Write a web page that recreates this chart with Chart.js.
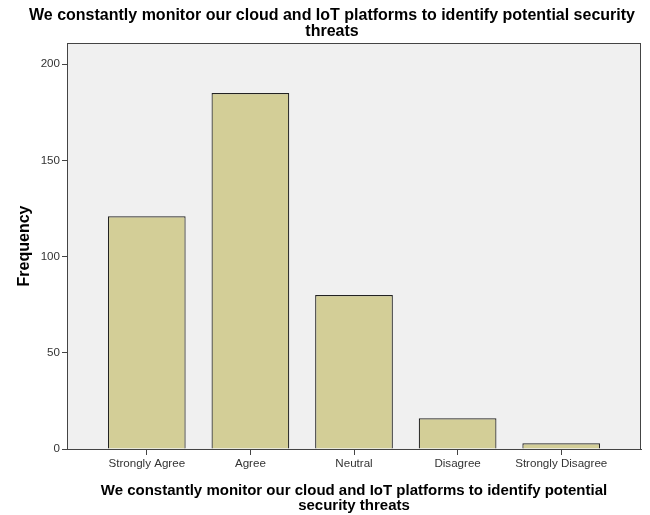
<!DOCTYPE html>
<html>
<head>
<meta charset="utf-8">
<script src="https://cdn.jsdelivr.net/npm/chart.js@4/dist/chart.umd.min.js"></script>
<style>
  html, body { margin: 0; padding: 0; background: #fff; }
  #wrap { width: 650px; height: 515px; }
</style>
</head>
<body>
<div id="wrap"><canvas id="chart"></canvas></div>
<script>
// values
const categories = ['Strongly Agree', 'Agree', 'Neutral', 'Disagree', 'Strongly Disagree'];
const frequency = [121, 185, 80, 16, 3];
const yTicks = [0, 50, 100, 150, 200];

const QUESTION = 'We constantly monitor our cloud and IoT platforms to identify potential';
const FONT = '"Liberation Sans", Arial, sans-serif';
const FRAME = '#444444';

// grey plot background + frame round the whole plot area
const plotFrame = {
  id: 'plotFrame',
  beforeDraw(chart) {
    const { ctx, chartArea: a } = chart;
    ctx.save();
    ctx.fillStyle = '#F0F0F0';
    ctx.fillRect(a.left, a.top, a.right - a.left, a.bottom - a.top);
    ctx.restore();
  },
  afterDraw(chart) {
    const { ctx, chartArea: a } = chart;
    ctx.save();
    ctx.strokeStyle = FRAME;
    ctx.lineWidth = 1;
    ctx.strokeRect(Math.round(a.left) + 0.5, Math.round(a.top) + 0.5,
      Math.round(a.right - a.left) - 1, Math.round(a.bottom - a.top));
    ctx.restore();
  },
};

new Chart(document.getElementById('chart'), {
  type: 'bar',
  data: {
    datasets: [{
      data: frequency.map((v, i) => ({ x: i, y: v })),
      backgroundColor: '#D3CE97',
      borderColor: '#222222',
      borderWidth: 1.2,
      categoryPercentage: 1,
      barPercentage: 0.75,
    }],
  },
  options: {
    responsive: true,
    maintainAspectRatio: false,
    animation: false,
    layout: { padding: { left: 23, right: 9, top: 0, bottom: 0 } },
    plugins: {
      legend: { display: false },
      tooltip: { enabled: false },
      title: {
        display: true,
        text: ['We constantly monitor our cloud and IoT platforms to identify potential security', 'threats'],
        color: '#000',
        font: { family: FONT, size: 16, weight: 'bold', lineHeight: 1 },
        padding: { top: 8, bottom: 3 },
      },
    },
    scales: {
      x: {
        type: 'linear',
        offset: false,
        min: -0.77,
        max: 4.77,
        afterBuildTicks: (scale) => { scale.ticks = categories.map((c, i) => ({ value: i })); },
        afterFit: (scale) => { scale.height = 66; },
        border: { display: true, color: FRAME, width: 1 },
        grid: { offset: false, drawOnChartArea: false, tickLength: 6, color: FRAME },
        ticks: {
          autoSkip: false,
          maxRotation: 0,
          padding: 2,
          color: '#333',
          font: { family: FONT, size: 11.6 },
          callback: (v) => categories[v] ?? '',
        },
        title: {
          display: true,
          text: [QUESTION, 'security threats'],
          color: '#000',
          font: { family: FONT, size: 15, weight: 'bold', lineHeight: 1 },
          padding: { top: 0, bottom: 1.5 },
        },
      },
      y: {
        min: 0,
        max: 211,
        afterBuildTicks: (scale) => { scale.ticks = yTicks.map((v) => ({ value: v })); },
        afterFit: (scale) => { scale.width = 44; },
        border: { display: true, color: FRAME, width: 1 },
        grid: { drawOnChartArea: false, tickLength: 5, color: FRAME },
        ticks: {
          padding: 2,
          color: '#333',
          font: { family: FONT, size: 11.6 },
        },
        title: {
          display: true,
          text: 'Frequency',
          color: '#000',
          font: { family: FONT, size: 16, weight: 'bold', lineHeight: 1.2 },
          padding: { top: -7.6, bottom: 0 },
        },
      },
    },
  },
  plugins: [plotFrame],
});
</script>
</body>
</html>
